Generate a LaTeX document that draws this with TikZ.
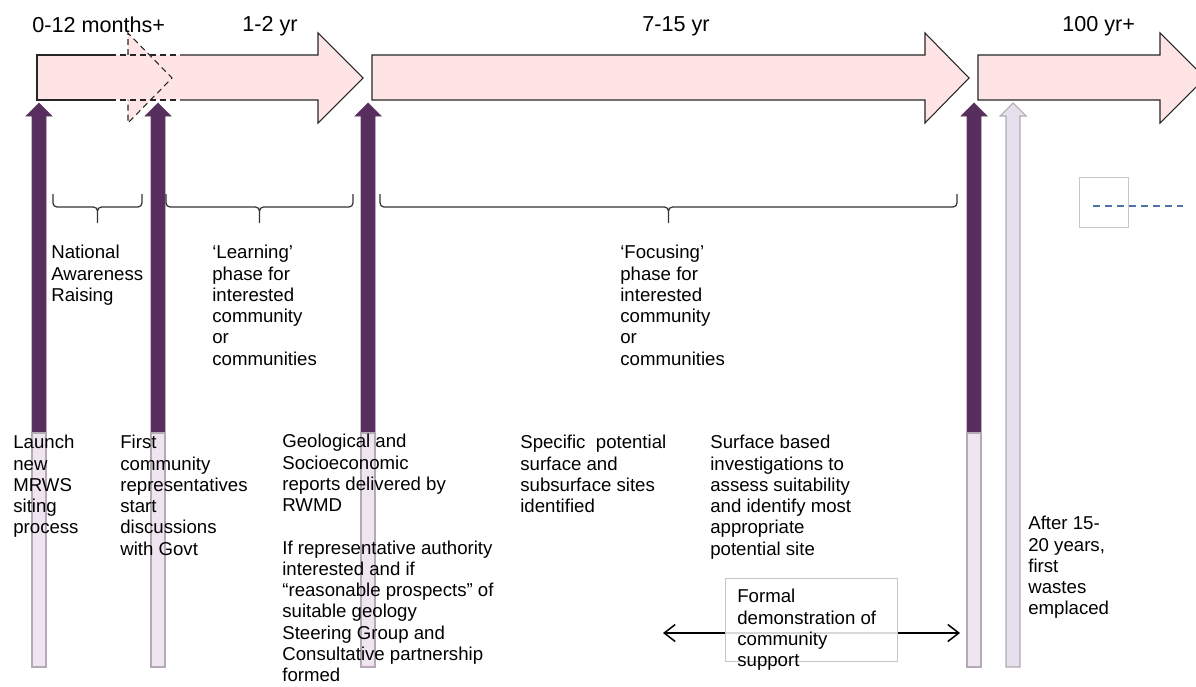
\documentclass[tikz,border=0pt]{standalone}
\usepackage{fontspec}
\setmainfont{Liberation Sans}
\usepackage{tikz}
\usetikzlibrary{arrows.meta}

\definecolor{phasepink}{RGB}{254,228,228}
\definecolor{stageplum}{RGB}{88,46,94}
\definecolor{stemlilac}{RGB}{240,228,241}
\definecolor{stemgrey}{RGB}{228,224,236}
\definecolor{stemedge}{RGB}{178,170,180}
\definecolor{keyblue}{RGB}{80,116,168}

\begin{document}
\begin{tikzpicture}[
    x=0.02cm, y=-0.02cm,
    every node/.style={inner sep=0pt, anchor=north west, align=left, font=\fontsize{10.6}{12.1}\selectfont},
    span/.style={font=\fontsize{12.3}{14}\selectfont},
    phase/.style={fill=phasepink, draw=black!85, line width=0.6pt, line join=miter},
    phaseline/.style={draw=black!85, line width=0.6pt},
    phasedash/.style={phaseline, dash pattern=on 3.4pt off 2.3pt},
    stage/.style={fill=stageplum, draw=stageplum!80!gray, line width=0.4pt},
    stem/.style={fill=stemlilac, draw=stemedge, line width=0.6pt},
    later/.style={fill=stemgrey, draw=stemedge, line width=0.6pt},
    braceline/.style={draw=black!80, line width=0.7pt},
    demobox/.style={rectangle, draw=gray!45, fill=white, fill opacity=0.85, text opacity=1, line width=0.6pt, minimum width=3.44cm, minimum height=1.66cm},
    keybox/.style={rectangle, draw=gray!45, line width=0.6pt, minimum width=0.98cm, minimum height=1cm},
    darrow/.style={{Straight Barb[length=2.2mm,width=3.4mm]}-{Straight Barb[length=2.2mm,width=3.4mm]}, line width=0.85pt},
  ]
    \useasboundingbox (0,0) rectangle (1196,686);

    % Phase arrows
    \fill[phasepink] (37,55) -- (318,55) -- (318,33) -- (363,78) -- (318,123) -- (318,100) -- (37,100) -- cycle;
    \fill[phasepink] (128,33) -- (172,78) -- (128,123) -- cycle;
    \draw[phaseline] (110,55) -- (37,55) -- (37,100) -- (110,100);
    \draw[phasedash] (110,55) -- (180,55) (110,100) -- (180,100);
    \draw[phasedash] (128,55) -- (128,33) -- (172,78) -- (128,123) -- (128,100);
    \draw[phaseline] (180,55) -- (318,55) -- (318,33) -- (363,78) -- (318,123) -- (318,100) -- (180,100);
    \draw[phase] (372,55) -- (925,55) -- (925,33) -- (969,78) -- (925,123) -- (925,100) -- (372,100) -- cycle;
    \draw[phase] (978,55) -- (1160,55) -- (1160,33) -- (1205,78) -- (1160,123) -- (1160,100) -- (978,100) -- cycle;

    % Time spans
    \node[span] (months) at (32,16) {0-12 months+};
    \node[span] (learnyr) at (242,16) {1-2 yr};
    \node[span] (focusyr) at (642,16) {7-15 yr};
    \node[span] (wasteyr) at (1062,16) {100 yr+};

    % Decision points
    \foreach \cx in {39,158,368,974} {
      \draw[stage] (\cx-7,433) -- (\cx-7,116) -- (\cx-13,116) -- (\cx,103) -- (\cx+13,116) -- (\cx+7,116) -- (\cx+7,433) -- cycle;
      \draw[stem] (\cx-7,433) rectangle (\cx+7,667);
    }
    \draw[later] (1006,667) -- (1006,116) -- (1000,116) -- (1013,103) -- (1026,116) -- (1020,116) -- (1020,667) -- cycle;

    % Braces
    \foreach \l/\r in {53/142, 166/353, 380/957} {
      \pgfmathsetmacro\m{(\l+\r)/2}
      \draw[braceline] (\l,194) -- (\l,203) to[out=-90,in=180] (\l+4,207) -- (\m-4,207)
        to[out=0,in=90] (\m,211) to[out=90,in=180] (\m+4,207) -- (\r-4,207)
        to[out=0,in=-90] (\r,203) -- (\r,194) (\m,211) -- (\m,223);
    }

    % Phases
    \node (awareness) at (51,245) {National\\Awareness\\Raising};
    \node (learning) at (212,245) {‘Learning’\\phase for\\interested\\community\\or\\communities};
    \node (focusing) at (620,245) {‘Focusing’\\phase for\\interested\\community\\or\\communities};

    % Milestones
    \node (launch) at (13,435) {Launch\\new\\MRWS\\siting\\process};
    \node (first) at (120,435) {First\\community\\representatives\\start\\discussions\\with Govt};
    \node (reports) at (282,434) {Geological and\\Socioeconomic\\reports delivered by\\RWMD\\[12.1pt]If representative authority\\interested and if\\“reasonable prospects” of\\suitable geology\\Steering Group and\\Consultative partnership\\formed};
    \node (sites) at (520,435) {Specific~ potential\\surface and\\subsurface sites\\identified};
    \node (survey) at (710,435) {Surface based\\investigations to\\assess suitability\\and identify most\\appropriate\\potential site};
    \node (emplace) at (1028,516) {After 15-\\20 years,\\first\\wastes\\emplaced};

    % Community support
    \coordinate (supportleft) at (663,633);
    \coordinate (supportright) at (960,633);
    \draw[darrow] (supportleft) -- (supportright);
    \node[demobox] (demobox) at (725,578) {};
    \node (demotext) at (737,589) {Formal\\demonstration of\\community\\support};

    % Key
    \node[keybox] (keybox) at (1079,177) {};
    \draw[keyblue, line width=0.7pt, dash pattern=on 4pt off 2.8pt] (1093,206) -- (1183,206);
\end{tikzpicture}
\end{document}
